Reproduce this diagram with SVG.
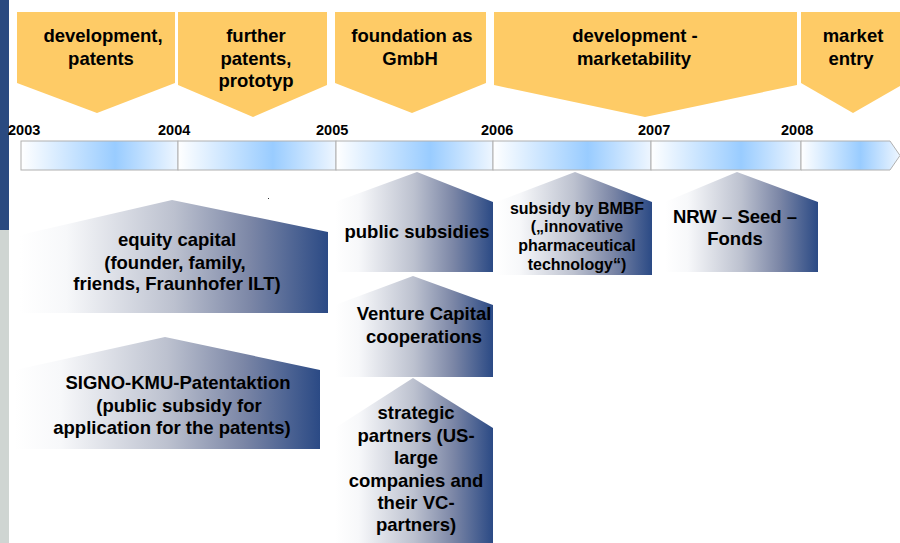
<svg xmlns="http://www.w3.org/2000/svg" width="900" height="543" viewBox="0 0 900 543">
  <defs>
    <linearGradient id="seg" x1="0" y1="0" x2="1" y2="0">
      <stop offset="0" stop-color="#ffffff"/>
      <stop offset="0.6" stop-color="#99ccff"/>
      <stop offset="1" stop-color="#eef6ff"/>
    </linearGradient>
    <linearGradient id="fund" x1="0" y1="0" x2="1" y2="0">
      <stop offset="0" stop-color="#ffffff"/>
      <stop offset="0.15" stop-color="#f7f8fa"/>
      <stop offset="0.5" stop-color="#bcc1cf"/>
      <stop offset="0.75" stop-color="#7b86a6"/>
      <stop offset="1" stop-color="#2b4a85"/>
    </linearGradient>
    <style>
      .phase { fill: #fecb66; }
      .fund { fill: url(#fund); }
      .seg { fill: url(#seg); stroke: #b0b0b0; stroke-width: 1; }
      text { font-family: "Liberation Sans", Arial, sans-serif; font-weight: bold; fill: #000; text-anchor: middle; }
      .t17 { font-size: 18.5px; }
      .t14 { font-size: 16px; }
      .yr { font-size: 14.5px; text-anchor: start; }
    </style>
  </defs>

  <rect width="900" height="543" fill="#ffffff"/>

  <!-- side strip -->
  <rect x="0" y="0" width="9" height="230" fill="#2a4a80"/>
  <rect x="0" y="230" width="9" height="313" fill="#cfd5d2"/>

  <!-- phase banners -->
  <g id="phase-development-patents">
    <path class="phase" d="M17,12 H175 V83 L97,113 L17,83 Z"/>
    <text class="t17" x="103" y="42">development,</text>
    <text class="t17" x="101" y="65">patents</text>
  </g>
  <g id="phase-further-patents">
    <path class="phase" d="M178,12 H327 V85 L253,117 L178,85 Z"/>
    <text class="t17" x="256" y="42">further</text>
    <text class="t17" x="256" y="65">patents,</text>
    <text class="t17" x="256" y="87">prototyp</text>
  </g>
  <g id="phase-foundation">
    <path class="phase" d="M335,12 H486 V83 L412,113 L335,83 Z"/>
    <text class="t17" x="412" y="42">foundation as</text>
    <text class="t17" x="410" y="65">GmbH</text>
  </g>
  <g id="phase-marketability">
    <path class="phase" d="M494,12 H797 V85 L645,117 L494,85 Z"/>
    <text class="t17" x="635" y="42">development -</text>
    <text class="t17" x="634" y="65">marketability</text>
  </g>
  <g id="phase-market-entry">
    <path class="phase" d="M801,12 H905 V83 L853,113 L801,83 Z"/>
    <text class="t17" x="853" y="42">market</text>
    <text class="t17" x="851" y="65">entry</text>
  </g>

  <!-- timeline -->
  <g id="timeline">
    <rect class="seg" x="21" y="141" width="157" height="29"/>
    <rect class="seg" x="178" y="141" width="158" height="29"/>
    <rect class="seg" x="336" y="141" width="157" height="29"/>
    <rect class="seg" x="493" y="141" width="158" height="29"/>
    <rect class="seg" x="651" y="141" width="150" height="29"/>
    <path class="seg" d="M801,141 H890 L900,155.5 L890,170 H801 Z"/>
    <text class="yr" x="8" y="135">2003</text>
    <text class="yr" x="158" y="135">2004</text>
    <text class="yr" x="316" y="135">2005</text>
    <text class="yr" x="481" y="135">2006</text>
    <text class="yr" x="638" y="135">2007</text>
    <text class="yr" x="781" y="135">2008</text>
  </g>

  <!-- funding sources -->
  <g id="fund-equity">
    <path class="fund" d="M20,235 L172,200 L328,232 V313 H20 Z"/>
    <text class="t17" x="177" y="246">equity capital</text>
    <text class="t17" x="175" y="269">(founder, family,</text>
    <text class="t17" x="177" y="290">friends, Fraunhofer ILT)</text>
  </g>
  <g id="fund-signo">
    <path class="fund" d="M15,370 L165,337 L320,370 V449 H15 Z"/>
    <text class="t17" x="178" y="389">SIGNO-KMU-Patentaktion</text>
    <text class="t17" x="179" y="412">(public subsidy for</text>
    <text class="t17" x="172" y="434">application for the patents)</text>
  </g>
  <g id="fund-public">
    <path class="fund" d="M335,202 L417,172 L493,202 V272 H335 Z"/>
    <text class="t17" x="417" y="238">public subsidies</text>
  </g>
  <g id="fund-bmbf">
    <path class="fund" d="M496,202 L575,172 L652,202 V275 H496 Z"/>
    <text class="t14" x="577" y="214">subsidy by BMBF</text>
    <text class="t14" x="577" y="232">(„innovative</text>
    <text class="t14" x="577" y="251">pharmaceutical</text>
    <text class="t14" x="577" y="270">technology“)</text>
  </g>
  <g id="fund-nrw">
    <path class="fund" d="M665,202 L737,172 L818,202 V272 H665 Z"/>
    <text class="t17" x="735" y="223">NRW – Seed –</text>
    <text class="t17" x="735" y="245">Fonds</text>
  </g>
  <g id="fund-venture">
    <path class="fund" d="M335,305 L413,276 L493,305 V377 H335 Z"/>
    <text class="t17" x="424" y="320">Venture Capital</text>
    <text class="t17" x="424" y="343">cooperations</text>
  </g>
  <g id="fund-strategic">
    <path class="fund" d="M335,428 L413,378 L493,428 V543 H335 Z"/>
    <text class="t17" x="416" y="419">strategic</text>
    <text class="t17" x="416" y="442">partners (US-</text>
    <text class="t17" x="416" y="464">large</text>
    <text class="t17" x="416" y="487">companies and</text>
    <text class="t17" x="416" y="509">their VC-</text>
    <text class="t17" x="416" y="531">partners)</text>
  </g>

  <rect x="268" y="198" width="1" height="1" fill="#333"/>
</svg>
